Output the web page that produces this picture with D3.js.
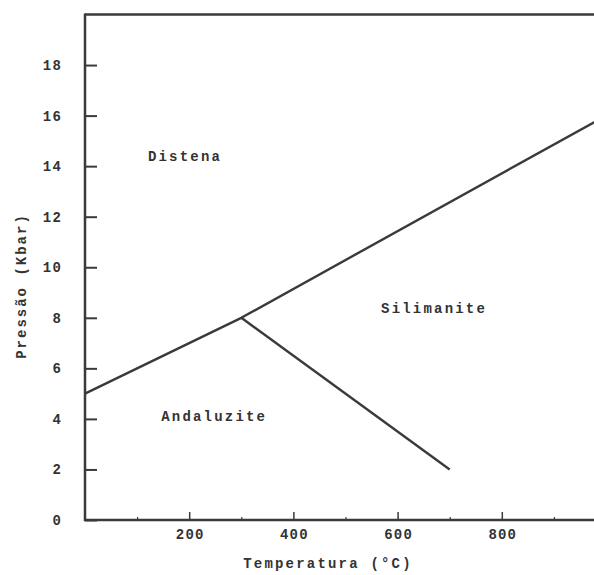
<!DOCTYPE html>
<html>
<head>
<meta charset="utf-8">
<script src="https://cdn.jsdelivr.net/npm/d3@7"></script>
<style>
  html, body { margin: 0; padding: 0; background: #fff; }
  svg text { font-family: "Liberation Mono", "DejaVu Sans Mono", monospace; font-weight: bold; fill: #333; }
</style>
</head>
<body>
<svg id="chart" width="594" height="575"></svg>
<script>
// ---- data ----
const xTicks = [200, 400, 600, 800];
const xMinorTicks = [100, 300, 500, 700, 900];
const yTicks = [0, 2, 4, 6, 8, 10, 12, 14, 16, 18];
// boundary: Distena / (Andaluzite, Silimanite)
const boundaryUpper = [[0, 5], [300, 8], [1000, 16]];
// boundary: Andaluzite / Silimanite
const boundaryLower = [[300, 8], [700, 2]];
const regionLabels = ["Distena", "Silimanite", "Andaluzite"];
const regionAt = [[192, 14.4], [670, 8.4], [248, 4.1]]; // (T, P) centers of labels
const xTitle = "Temperatura (°C)";
const yTitle = "Pressão (Kbar)";

// ---- layout ----
const svg = d3.select("#chart");
const x = d3.scaleLinear().domain([0, 1000]).range([85, 606]);
const y = d3.scaleLinear().domain([0, 20]).range([520, 14.5]);
const ink = "#3a3a3a";

svg.append("defs").append("clipPath").attr("id", "clip")
  .append("rect").attr("x", 85).attr("y", 14).attr("width", 509).attr("height", 507);

// frame: top border
svg.append("line").attr("x1", x(0)).attr("x2", 594).attr("y1", y(20)).attr("y2", y(20))
  .attr("stroke", ink).attr("stroke-width", 2.5);

// y axis
const yAxis = d3.axisRight(y).tickValues(yTicks).tickSize(12).tickFormat("");
const gy = svg.append("g").attr("transform", `translate(${x(0)},0)`).call(yAxis);
gy.select(".domain").remove();
gy.selectAll(".tick line").attr("stroke", ink).attr("stroke-width", 2);
svg.append("line").attr("x1", x(0)).attr("x2", x(0)).attr("y1", y(20) - 1).attr("y2", y(0) + 1)
  .attr("stroke", ink).attr("stroke-width", 2.5);
svg.append("g").selectAll("text").data(yTicks).join("text")
  .attr("x", 62).attr("y", d => y(d)).attr("dy", "0.35em")
  .attr("text-anchor", "end").attr("font-size", 14).style("letter-spacing", "1.2px")
  .text(d => d);

// x axis
const xAxis = d3.axisTop(x).tickValues(xTicks).tickSize(8).tickFormat("");
const gx = svg.append("g").attr("transform", `translate(0,${y(0)})`).call(xAxis);
gx.select(".domain").remove();
gx.selectAll(".tick line").attr("stroke", ink).attr("stroke-width", 1.5);
const xMinor = d3.axisTop(x).tickValues(xMinorTicks).tickSize(3).tickFormat("");
const gxm = svg.append("g").attr("transform", `translate(0,${y(0)})`).call(xMinor);
gxm.select(".domain").remove();
gxm.selectAll(".tick line").attr("stroke", ink).attr("stroke-width", 1.2);
svg.append("line").attr("x1", x(0) - 1).attr("x2", 594).attr("y1", y(0)).attr("y2", y(0))
  .attr("stroke", ink).attr("stroke-width", 2.5);
svg.append("g").selectAll("text").data(xTicks).join("text")
  .attr("x", d => x(d) + 1).attr("y", 534).attr("dy", "0.35em")
  .attr("text-anchor", "middle").attr("font-size", 14).style("letter-spacing", "1.2px")
  .text(d => d);

// axis titles
svg.append("text").attr("x", 328).attr("y", 563).attr("dy", "0.35em")
  .attr("text-anchor", "middle").attr("font-size", 14).style("letter-spacing", "2.2px")
  .text(xTitle);
svg.append("text").attr("transform", "translate(21,286) rotate(-90)").attr("dy", "0.35em")
  .attr("text-anchor", "middle").attr("font-size", 14).style("letter-spacing", "2px")
  .text(yTitle);

// boundaries
const line = d3.line().x(d => x(d[0])).y(d => y(d[1]));
const gl = svg.append("g").attr("clip-path", "url(#clip)");
[boundaryUpper, boundaryLower].forEach(b => {
  gl.append("path").attr("d", line(b)).attr("fill", "none")
    .attr("stroke", ink).attr("stroke-width", 2.4).attr("stroke-linejoin", "round");
});

// region labels
svg.append("g").selectAll("text").data(regionLabels).join("text")
  .attr("x", (d, i) => x(regionAt[i][0])).attr("y", (d, i) => y(regionAt[i][1])).attr("dy", "0.35em")
  .attr("text-anchor", "middle").attr("font-size", 14).style("letter-spacing", "2.2px")
  .text(d => d);
</script>
</body>
</html>
